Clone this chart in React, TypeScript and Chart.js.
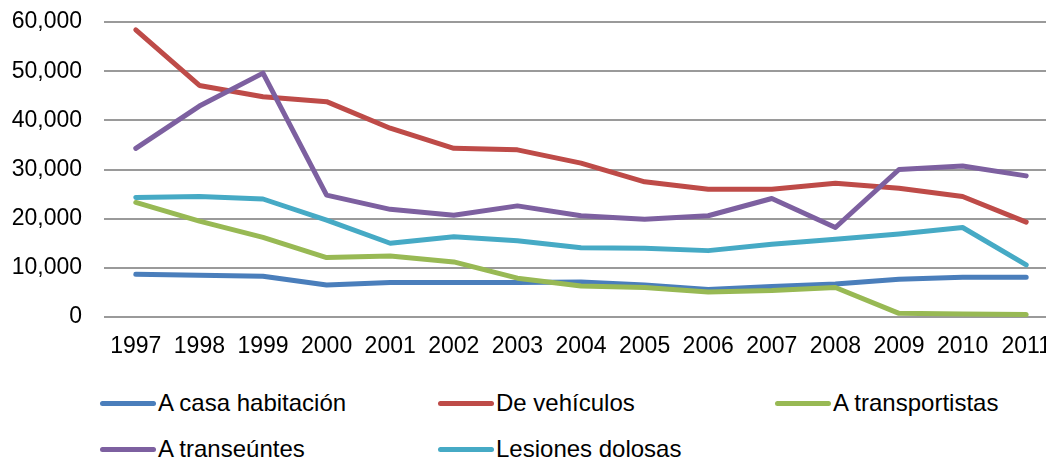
import React, { useEffect, useRef } from "react";
import { Chart, registerables } from "chart.js";

Chart.register(...registerables);

const years = ["1997", "1998", "1999", "2000", "2001", "2002", "2003", "2004", "2005", "2006", "2007", "2008", "2009", "2010", "2011"];
const casaHabitacion = [8700, 8500, 8300, 6500, 7000, 7000, 7000, 7100, 6500, 5600, 6200, 6700, 7700, 8100, 8100];
const deVehiculos = [58400, 47100, 44800, 43800, 38400, 34300, 34000, 31300, 27500, 26000, 26000, 27200, 26200, 24500, 19300];
const aTransportistas = [23300, 19500, 16200, 12100, 12400, 11200, 7900, 6300, 6000, 5100, 5400, 6000, 750, 600, 500];
const aTranseuntes = [34300, 42900, 49600, 24800, 21900, 20700, 22600, 20600, 19900, 20600, 24100, 18200, 30000, 30700, 28700];
const lesionesDolosas = [24300, 24500, 24000, 19700, 15000, 16300, 15500, 14100, 14000, 13500, 14800, 15800, 16900, 18200, 10600];

const seriesNames = ["A casa habitación", "De vehículos", "A transportistas", "A transeúntes", "Lesiones dolosas"];
const seriesColors = ["#4A7EBB", "#BE4B48", "#98B954", "#7D60A0", "#46AAC5"];
const seriesData = [casaHabitacion, deVehiculos, aTransportistas, aTranseuntes, lesionesDolosas];

const FONT = "'Liberation Sans', Arial, sans-serif";

const legendPos = [
  { x: 100, y: 403 },
  { x: 438, y: 403 },
  { x: 775, y: 403 },
  { x: 100, y: 449 },
  { x: 438, y: 449 },
];

export default function App() {
  const ref = useRef<HTMLCanvasElement | null>(null);

  useEffect(() => {
    if (!ref.current) return;
    const chart = new Chart(ref.current, {
      type: "line",
      data: {
        labels: years,
        datasets: seriesData.map((d, i) => ({
          label: seriesNames[i],
          data: d,
          borderColor: seriesColors[i],
          backgroundColor: seriesColors[i],
          borderWidth: 5,
          pointRadius: 0,
          tension: 0,
          borderCapStyle: "round" as const,
          borderJoinStyle: "round" as const,
          order: 5 - i,
        })),
      },
      options: {
        responsive: false,
        animation: false,
        layout: { padding: { top: 22, right: 12, left: 0, bottom: 0 } },
        plugins: { legend: { display: false }, tooltip: { enabled: false } },
        scales: {
          x: {
            offset: true,
            grid: { display: false, drawTicks: false },
            border: { display: false },
            ticks: {
              color: "#000",
              font: { family: FONT, size: 23 },
              padding: 16,
              maxRotation: 0,
              autoSkip: false,
            },
            afterFit: (s: any) => {
              s.height = 53;
            },
          },
          y: {
            min: 0,
            max: 60000,
            grid: { color: "#9a9a9a", lineWidth: 2, drawTicks: false },
            border: { display: false },
            ticks: {
              stepSize: 10000,
              color: "#000",
              padding: 22,
              font: { family: FONT, size: 23 },
              callback: (v: any) => Number(v).toLocaleString("en-US"),
            },
            afterFit: (s: any) => {
              s.width = 104;
              s.paddingTop = 0;
              s.paddingBottom = 0;
            },
          },
        },
      },
    });
    return () => chart.destroy();
  }, []);

  return (
    <div
      style={{
        position: "fixed",
        left: 0,
        top: 0,
        width: 1046,
        height: 460,
        overflow: "hidden",
        background: "#fff",
      }}
    >
      <canvas ref={ref} width={1070} height={370} style={{ display: "block" }} />
      {seriesNames.map((name, i) => (
        <div
          key={name}
          style={{
            position: "absolute",
            left: legendPos[i].x,
            top: legendPos[i].y - 15,
            height: 30,
            display: "flex",
            alignItems: "center",
            whiteSpace: "nowrap",
            fontFamily: FONT,
            fontSize: 24,
            color: "#000",
          }}
        >
          <span
            style={{
              display: "inline-block",
              width: 56,
              height: 5,
              borderRadius: 3,
              background: seriesColors[i],
              marginRight: 2,
            }}
          />
          <span>{name}</span>
        </div>
      ))}
    </div>
  );
}
